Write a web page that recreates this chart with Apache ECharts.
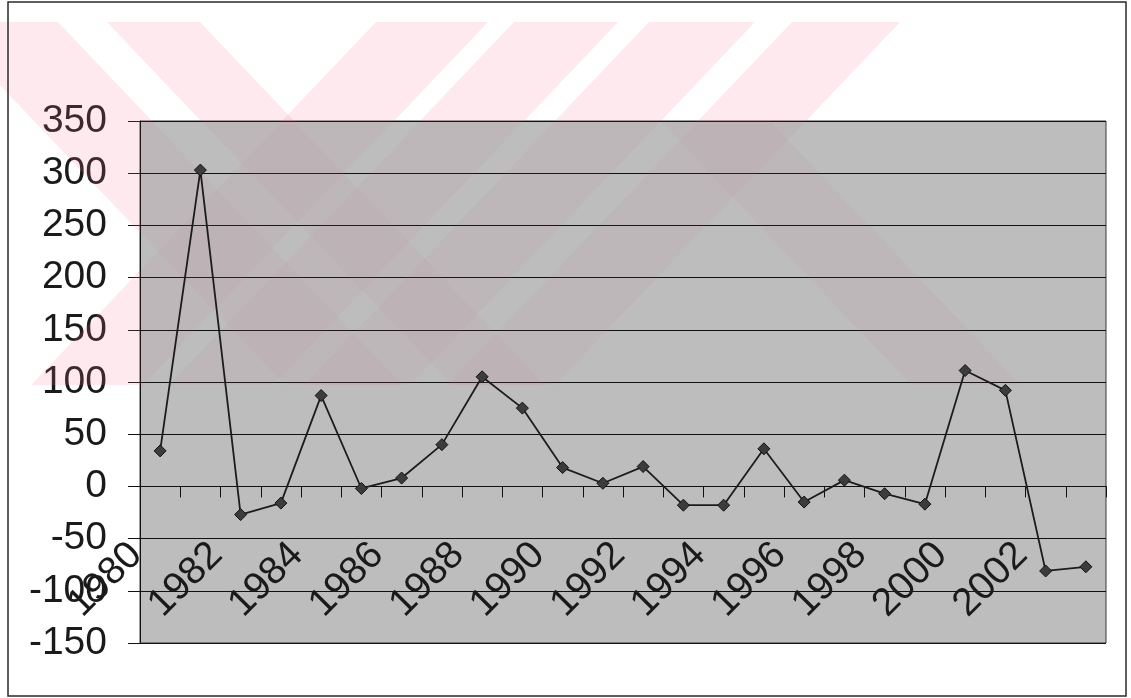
<!DOCTYPE html>
<html>
<head>
<meta charset="utf-8">
<script src="https://cdn.jsdelivr.net/npm/echarts@6/dist/echarts.min.js"></script>
<style>
  html, body { margin: 0; padding: 0; background: #ffffff; }
  #chart { width: 1131px; height: 698px; }
</style>
</head>
<body>
<div id="chart"></div>
<script>
// Yearly values, 1980-2003
const years = ['1980', '1981', '1982', '1983', '1984', '1985', '1986', '1987',
               '1988', '1989', '1990', '1991', '1992', '1993', '1994', '1995',
               '1996', '1997', '1998', '1999', '2000', '2001', '2002', '2003'];
const values = [34, 303, -27, -16, 87, -2, 8, 40,
                105, 75, 18, 3, 19, -18, -18, 36,
                -15, 6, -7, -17, 111, 92, -81, -77];

// Value axis range and step
const yMin = -150;
const yMax = 350;
const yStep = 50;

const FONT = '"Liberation Sans", Arial, sans-serif';

// Plot rectangle (pixels) shared by the grid and the background decoration
const PLOT = { left: 140, top: 121, right: 1106, bottom: 643 };
const W = 1131, H = 698;

// Faint pink diagonal stripes printed across the upper part of the page
const STRIPE_BOTTOM = 385, SLOPE = 0.95;
const stripes = [
  { y: 22, x0: -60, x1: 58, dir: 1 },
  { y: 22, x0: 107, x1: 200, dir: 1 },
  { y: 22, x0: 376, x1: 488, dir: -1 },
  { y: 22, x0: 514, x1: 618, dir: -1 },
  { y: 22, x0: 649, x1: 755, dir: -1 },
  { y: 22, x0: 792, x1: 900, dir: -1 },
  { y: 121, x0: 660, x1: 770, dir: 1 }
];

// Clip a convex polygon to an axis-aligned rectangle
function clipToRect(points, r) {
  const inside = [
    p => p[0] >= r.x0, p => p[0] <= r.x1,
    p => p[1] >= r.y0, p => p[1] <= r.y1
  ];
  const cut = [
    (a, b) => { const t = (r.x0 - a[0]) / (b[0] - a[0]); return [r.x0, a[1] + t * (b[1] - a[1])]; },
    (a, b) => { const t = (r.x1 - a[0]) / (b[0] - a[0]); return [r.x1, a[1] + t * (b[1] - a[1])]; },
    (a, b) => { const t = (r.y0 - a[1]) / (b[1] - a[1]); return [a[0] + t * (b[0] - a[0]), r.y0]; },
    (a, b) => { const t = (r.y1 - a[1]) / (b[1] - a[1]); return [a[0] + t * (b[0] - a[0]), r.y1]; }
  ];
  let out = points;
  for (let e = 0; e < 4 && out.length; e++) {
    const input = out; out = [];
    for (let i = 0; i < input.length; i++) {
      const cur = input[i], prev = input[(i + input.length - 1) % input.length];
      const cIn = inside[e](cur), pIn = inside[e](prev);
      if (cIn) { if (!pIn) out.push(cut[e](prev, cur)); out.push(cur); }
      else if (pIn) out.push(cut[e](prev, cur));
    }
  }
  return out;
}

const outsideRects = [
  { x0: -100, x1: W, y0: 0, y1: PLOT.top },
  { x0: -100, x1: PLOT.left, y0: PLOT.top, y1: H },
  { x0: PLOT.right, x1: W, y0: PLOT.top, y1: H }
];
const insideRect = { x0: PLOT.left, x1: PLOT.right, y0: PLOT.top, y1: PLOT.bottom };

const stripeGraphics = [];
stripes.forEach(s => {
  const d = s.dir * SLOPE * (STRIPE_BOTTOM - s.y);
  const poly = [[s.x0, s.y], [s.x1, s.y], [s.x1 + d, STRIPE_BOTTOM], [s.x0 + d, STRIPE_BOTTOM]];
  outsideRects.forEach(r => {
    const p = clipToRect(poly, r);
    if (p.length > 2) stripeGraphics.push({
      type: 'polygon', z: 1, silent: true,
      shape: { points: p }, style: { fill: '#f07896', opacity: 0.16 }
    });
  });
  const q = clipToRect(poly, insideRect);
  if (q.length > 2) stripeGraphics.push({
    type: 'polygon', z: 1, silent: true,
    shape: { points: q }, style: { fill: '#c87088', opacity: 0.07 }
  });
});

const chart = echarts.init(document.getElementById('chart'), null, { renderer: 'canvas' });

chart.setOption({
  animation: false,
  backgroundColor: '#ffffff',
  grid: {
    left: PLOT.left, right: W - PLOT.right, top: PLOT.top, bottom: H - PLOT.bottom,
    outerBoundsMode: 'none',
    containLabel: false,
    show: true,
    backgroundColor: '#bdbdbd',
    borderColor: '#3a3a3a',
    borderWidth: 1
  },
  graphic: [
    {
      type: 'rect',
      z: 5,
      silent: true,
      shape: { x: 8, y: 2, width: 1118, height: 694 },
      style: { fill: 'none', stroke: '#2a2a2a', lineWidth: 1.5 }
    }
  ].concat(stripeGraphics),
  xAxis: [
    {
      // year labels, set just below the zero line
      type: 'category',
      data: years,
      position: 'bottom',
      boundaryGap: true,
      axisLine: { show: false, onZero: false },
      axisTick: { show: false },
      axisLabel: {
        interval: 1,
        rotate: 45,
        margin: -118,
        padding: [0, 34, 0, 0],
        fontFamily: FONT,
        fontSize: 39,
        color: '#1a1a1a'
      },
      splitLine: { show: false }
    },
    {
      // category axis line and ticks drawn on the zero line
      type: 'category',
      data: years,
      position: 'bottom',
      boundaryGap: true,
      axisLine: { show: true, onZero: true, lineStyle: { color: '#111', width: 1 } },
      axisTick: { show: true, interval: 0, length: 11, lineStyle: { color: '#111', width: 1 } },
      axisLabel: { show: false },
      splitLine: { show: false }
    }
  ],
  yAxis: {
    type: 'value',
    min: yMin,
    max: yMax,
    interval: yStep,
    axisLine: { show: true, lineStyle: { color: '#111', width: 1 } },
    axisTick: { show: true, length: 12, lineStyle: { color: '#111', width: 1 } },
    axisLabel: {
      margin: 33,
      fontFamily: FONT,
      fontSize: 39,
      color: '#1a1a1a'
    },
    splitLine: { show: true, lineStyle: { color: '#111', width: 1 } }
  },
  series: [{
    type: 'line',
    xAxisIndex: 0,
    data: values,
    z: 3,
    symbol: 'diamond',
    symbolSize: 12,
    lineStyle: { color: '#1c1c1c', width: 1.8 },
    itemStyle: { color: '#3c3c3c', borderColor: '#111', borderWidth: 1 }
  }]
});
</script>
</body>
</html>
